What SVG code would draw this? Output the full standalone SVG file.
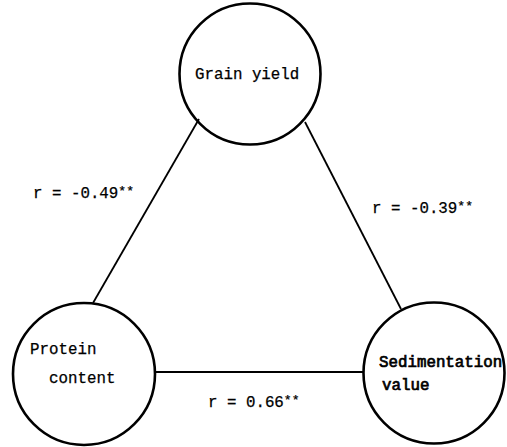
<svg xmlns="http://www.w3.org/2000/svg" width="507" height="447" viewBox="0 0 507 447">
<style>
.node{fill:none;stroke:#000;stroke-width:2.6}
.edge{stroke:#000;stroke-width:1.8;fill:none}
text{font-family:"Liberation Mono","Courier New",monospace;font-size:15.8px;fill:#000;stroke:#000;stroke-width:0.25}
.sup{font-size:13px}
.b{stroke-width:0.7}
</style>
<rect width="507" height="447" fill="#fff"/>
<g id="connectors">
<line class="edge" x1="199" y1="119" x2="93" y2="303"/>
<line class="edge" x1="305" y1="122" x2="401" y2="309"/>
<line class="edge" x1="155" y1="372" x2="363" y2="372"/>
<text x="33" y="198">r = -0.49<tspan class="sup" dy="-3">**</tspan></text>
<text x="372" y="213">r = -0.39<tspan class="sup" dy="-3">**</tspan></text>
<text x="208" y="407">r = 0.66<tspan class="sup" dy="-3">**</tspan></text>
</g>
<g id="grain">
<circle class="node" cx="250" cy="74" r="70.5"/>
<text x="195" y="79">Grain yield</text>
</g>
<g id="protein">
<circle class="node" cx="84" cy="374" r="71"/>
<text x="30" y="354">Protein</text>
<text x="49" y="383">content</text>
</g>
<g id="sedimentation">
<circle class="node" cx="434" cy="373" r="70.5"/>
<text class="b" x="379" y="367">Sedimentation</text>
<text class="b" x="382" y="390">value</text>
</g>
</svg>
